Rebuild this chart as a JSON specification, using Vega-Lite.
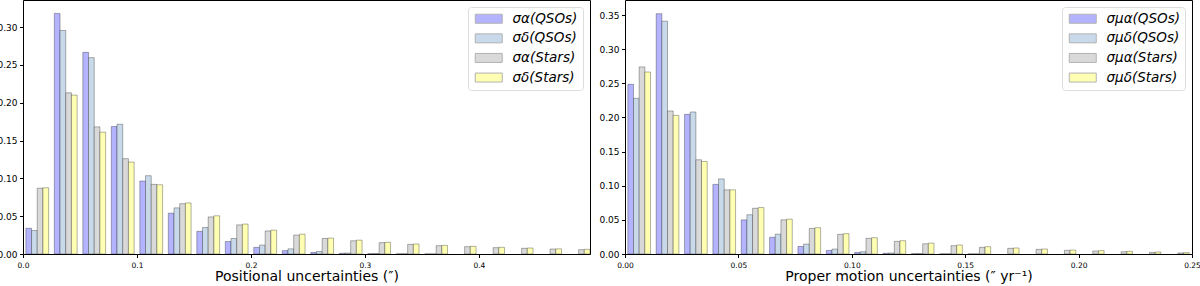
{
  "$schema": "https://vega.github.io/schema/vega-lite/v6.json",
  "background": "white",
  "padding": {"left": -5, "top": -1, "right": 0, "bottom": 0},
  "spacing": 6,
  "config": {
    "view": {"stroke": "#000", "strokeWidth": 1},
    "font": "DejaVu Sans",
    "axis": {"domain": false, "grid": false, "tickColor": "#000", "tickSize": 3.5, "labelColor": "#000", "labelFont": "DejaVu Sans", "labelFontSize": 9, "labelFlush": false, "titleFont": "DejaVu Sans", "titleFontSize": 14, "titleFontWeight": "normal", "titleColor": "#000", "labelPadding": 2.5},
    "legend": {"orient": "top-right", "offset": 7, "fillColor": "white", "strokeColor": "#ddd", "cornerRadius": 3, "padding": 5, "rowPadding": 4.6, "labelFont": "DejaVu Sans", "labelFontSize": 13.5, "labelFontStyle": "italic", "labelColor": "#000", "labelOffset": 26, "symbolType": "M-1,-1H5V1H-1Z", "symbolSize": 81, "symbolStrokeColor": "#b3b3b3", "symbolStrokeWidth": 1, "symbolOpacity": 1, "title": null}
  },
  "datasets": {
    "pos": [
      {"lo":0,"hi":0.025,"s":"σα(QSOs)","v":0.034},{"lo":0,"hi":0.025,"s":"σδ(QSOs)","v":0.031},{"lo":0,"hi":0.025,"s":"σα(Stars)","v":0.087},{"lo":0,"hi":0.025,"s":"σδ(Stars)","v":0.0875},
      {"lo":0.025,"hi":0.05,"s":"σα(QSOs)","v":0.318},{"lo":0.025,"hi":0.05,"s":"σδ(QSOs)","v":0.2955},{"lo":0.025,"hi":0.05,"s":"σα(Stars)","v":0.213},{"lo":0.025,"hi":0.05,"s":"σδ(Stars)","v":0.21},
      {"lo":0.05,"hi":0.075,"s":"σα(QSOs)","v":0.2665},{"lo":0.05,"hi":0.075,"s":"σδ(QSOs)","v":0.2595},{"lo":0.05,"hi":0.075,"s":"σα(Stars)","v":0.168},{"lo":0.05,"hi":0.075,"s":"σδ(Stars)","v":0.161},
      {"lo":0.075,"hi":0.1,"s":"σα(QSOs)","v":0.1685},{"lo":0.075,"hi":0.1,"s":"σδ(QSOs)","v":0.1715},{"lo":0.075,"hi":0.1,"s":"σα(Stars)","v":0.126},{"lo":0.075,"hi":0.1,"s":"σδ(Stars)","v":0.1215},
      {"lo":0.1,"hi":0.125,"s":"σα(QSOs)","v":0.0965},{"lo":0.1,"hi":0.125,"s":"σδ(QSOs)","v":0.1035},{"lo":0.1,"hi":0.125,"s":"σα(Stars)","v":0.092},{"lo":0.1,"hi":0.125,"s":"σδ(Stars)","v":0.0915},
      {"lo":0.125,"hi":0.15,"s":"σα(QSOs)","v":0.054},{"lo":0.125,"hi":0.15,"s":"σδ(QSOs)","v":0.061},{"lo":0.125,"hi":0.15,"s":"σα(Stars)","v":0.0665},{"lo":0.125,"hi":0.15,"s":"σδ(Stars)","v":0.0675},
      {"lo":0.15,"hi":0.175,"s":"σα(QSOs)","v":0.03},{"lo":0.15,"hi":0.175,"s":"σδ(QSOs)","v":0.035},{"lo":0.15,"hi":0.175,"s":"σα(Stars)","v":0.049},{"lo":0.15,"hi":0.175,"s":"σδ(Stars)","v":0.0505},
      {"lo":0.175,"hi":0.2,"s":"σα(QSOs)","v":0.0165},{"lo":0.175,"hi":0.2,"s":"σδ(QSOs)","v":0.0205},{"lo":0.175,"hi":0.2,"s":"σα(Stars)","v":0.0385},{"lo":0.175,"hi":0.2,"s":"σδ(Stars)","v":0.0395},
      {"lo":0.2,"hi":0.225,"s":"σα(QSOs)","v":0.0088},{"lo":0.2,"hi":0.225,"s":"σδ(QSOs)","v":0.0118},{"lo":0.2,"hi":0.225,"s":"σα(Stars)","v":0.0305},{"lo":0.2,"hi":0.225,"s":"σδ(Stars)","v":0.0315},
      {"lo":0.225,"hi":0.25,"s":"σα(QSOs)","v":0.0045},{"lo":0.225,"hi":0.25,"s":"σδ(QSOs)","v":0.0068},{"lo":0.225,"hi":0.25,"s":"σα(Stars)","v":0.025},{"lo":0.225,"hi":0.25,"s":"σδ(Stars)","v":0.0262},
      {"lo":0.25,"hi":0.275,"s":"σα(QSOs)","v":0.002},{"lo":0.25,"hi":0.275,"s":"σδ(QSOs)","v":0.0033},{"lo":0.25,"hi":0.275,"s":"σα(Stars)","v":0.0205},{"lo":0.25,"hi":0.275,"s":"σδ(Stars)","v":0.021},
      {"lo":0.275,"hi":0.3,"s":"σα(QSOs)","v":0.0009},{"lo":0.275,"hi":0.3,"s":"σδ(QSOs)","v":0.0013},{"lo":0.275,"hi":0.3,"s":"σα(Stars)","v":0.0175},{"lo":0.275,"hi":0.3,"s":"σδ(Stars)","v":0.0183},
      {"lo":0.3,"hi":0.325,"s":"σα(QSOs)","v":0.0004},{"lo":0.3,"hi":0.325,"s":"σδ(QSOs)","v":0.0006},{"lo":0.3,"hi":0.325,"s":"σα(Stars)","v":0.015},{"lo":0.3,"hi":0.325,"s":"σδ(Stars)","v":0.0154},
      {"lo":0.325,"hi":0.35,"s":"σα(QSOs)","v":0.0002},{"lo":0.325,"hi":0.35,"s":"σδ(QSOs)","v":0.0003},{"lo":0.325,"hi":0.35,"s":"σα(Stars)","v":0.0128},{"lo":0.325,"hi":0.35,"s":"σδ(Stars)","v":0.0132},
      {"lo":0.35,"hi":0.375,"s":"σα(QSOs)","v":0.0001},{"lo":0.35,"hi":0.375,"s":"σδ(QSOs)","v":0.0001},{"lo":0.35,"hi":0.375,"s":"σα(Stars)","v":0.011},{"lo":0.35,"hi":0.375,"s":"σδ(Stars)","v":0.0114},
      {"lo":0.375,"hi":0.4,"s":"σα(Stars)","v":0.0097},{"lo":0.375,"hi":0.4,"s":"σδ(Stars)","v":0.0101},
      {"lo":0.4,"hi":0.425,"s":"σα(Stars)","v":0.0084},{"lo":0.4,"hi":0.425,"s":"σδ(Stars)","v":0.0088},
      {"lo":0.425,"hi":0.45,"s":"σα(Stars)","v":0.0075},{"lo":0.425,"hi":0.45,"s":"σδ(Stars)","v":0.0079},
      {"lo":0.45,"hi":0.475,"s":"σα(Stars)","v":0.0066},{"lo":0.45,"hi":0.475,"s":"σδ(Stars)","v":0.0068},
      {"lo":0.475,"hi":0.5,"s":"σα(Stars)","v":0.0057},{"lo":0.475,"hi":0.5,"s":"σδ(Stars)","v":0.0062}
    ],
    "pm": [
      {"lo":0,"hi":0.0125,"s":"σμα(QSOs)","v":0.2485},{"lo":0,"hi":0.0125,"s":"σμδ(QSOs)","v":0.228},{"lo":0,"hi":0.0125,"s":"σμα(Stars)","v":0.274},{"lo":0,"hi":0.0125,"s":"σμδ(Stars)","v":0.2665},
      {"lo":0.0125,"hi":0.025,"s":"σμα(QSOs)","v":0.352},{"lo":0.0125,"hi":0.025,"s":"σμδ(QSOs)","v":0.341},{"lo":0.0125,"hi":0.025,"s":"σμα(Stars)","v":0.2095},{"lo":0.0125,"hi":0.025,"s":"σμδ(Stars)","v":0.203},
      {"lo":0.025,"hi":0.0375,"s":"σμα(QSOs)","v":0.2045},{"lo":0.025,"hi":0.0375,"s":"σμδ(QSOs)","v":0.208},{"lo":0.025,"hi":0.0375,"s":"σμα(Stars)","v":0.138},{"lo":0.025,"hi":0.0375,"s":"σμδ(Stars)","v":0.1355},
      {"lo":0.0375,"hi":0.05,"s":"σμα(QSOs)","v":0.102},{"lo":0.0375,"hi":0.05,"s":"σμδ(QSOs)","v":0.11},{"lo":0.0375,"hi":0.05,"s":"σμα(Stars)","v":0.094},{"lo":0.0375,"hi":0.05,"s":"σμδ(Stars)","v":0.094},
      {"lo":0.05,"hi":0.0625,"s":"σμα(QSOs)","v":0.05},{"lo":0.05,"hi":0.0625,"s":"σμδ(QSOs)","v":0.0575},{"lo":0.05,"hi":0.0625,"s":"σμα(Stars)","v":0.067},{"lo":0.05,"hi":0.0625,"s":"σμδ(Stars)","v":0.068},
      {"lo":0.0625,"hi":0.075,"s":"σμα(QSOs)","v":0.0245},{"lo":0.0625,"hi":0.075,"s":"σμδ(QSOs)","v":0.029},{"lo":0.0625,"hi":0.075,"s":"σμα(Stars)","v":0.05},{"lo":0.0625,"hi":0.075,"s":"σμδ(Stars)","v":0.051},
      {"lo":0.075,"hi":0.0875,"s":"σμα(QSOs)","v":0.011},{"lo":0.075,"hi":0.0875,"s":"σμδ(QSOs)","v":0.0145},{"lo":0.075,"hi":0.0875,"s":"σμα(Stars)","v":0.0375},{"lo":0.075,"hi":0.0875,"s":"σμδ(Stars)","v":0.0385},
      {"lo":0.0875,"hi":0.1,"s":"σμα(QSOs)","v":0.0052},{"lo":0.0875,"hi":0.1,"s":"σμδ(QSOs)","v":0.0072},{"lo":0.0875,"hi":0.1,"s":"σμα(Stars)","v":0.0288},{"lo":0.0875,"hi":0.1,"s":"σμδ(Stars)","v":0.0298},
      {"lo":0.1,"hi":0.1125,"s":"σμα(QSOs)","v":0.0023},{"lo":0.1,"hi":0.1125,"s":"σμδ(QSOs)","v":0.0033},{"lo":0.1,"hi":0.1125,"s":"σμα(Stars)","v":0.0229},{"lo":0.1,"hi":0.1125,"s":"σμδ(Stars)","v":0.0239},
      {"lo":0.1125,"hi":0.125,"s":"σμα(QSOs)","v":0.001},{"lo":0.1125,"hi":0.125,"s":"σμδ(QSOs)","v":0.0015},{"lo":0.1125,"hi":0.125,"s":"σμα(Stars)","v":0.0185},{"lo":0.1125,"hi":0.125,"s":"σμδ(Stars)","v":0.0195},
      {"lo":0.125,"hi":0.1375,"s":"σμα(QSOs)","v":0.0004},{"lo":0.125,"hi":0.1375,"s":"σμδ(QSOs)","v":0.0006},{"lo":0.125,"hi":0.1375,"s":"σμα(Stars)","v":0.015},{"lo":0.125,"hi":0.1375,"s":"σμδ(Stars)","v":0.016},
      {"lo":0.1375,"hi":0.15,"s":"σμα(QSOs)","v":0.0002},{"lo":0.1375,"hi":0.15,"s":"σμδ(QSOs)","v":0.0002},{"lo":0.1375,"hi":0.15,"s":"σμα(Stars)","v":0.0122},{"lo":0.1375,"hi":0.15,"s":"σμδ(Stars)","v":0.0132},
      {"lo":0.15,"hi":0.1625,"s":"σμα(QSOs)","v":0.0001},{"lo":0.15,"hi":0.1625,"s":"σμδ(QSOs)","v":0.0001},{"lo":0.15,"hi":0.1625,"s":"σμα(Stars)","v":0.0097},{"lo":0.15,"hi":0.1625,"s":"σμδ(Stars)","v":0.0107},
      {"lo":0.1625,"hi":0.175,"s":"σμα(Stars)","v":0.0083},{"lo":0.1625,"hi":0.175,"s":"σμδ(Stars)","v":0.0088},
      {"lo":0.175,"hi":0.1875,"s":"σμα(Stars)","v":0.0068},{"lo":0.175,"hi":0.1875,"s":"σμδ(Stars)","v":0.0073},
      {"lo":0.1875,"hi":0.2,"s":"σμα(Stars)","v":0.0054},{"lo":0.1875,"hi":0.2,"s":"σμδ(Stars)","v":0.0058},
      {"lo":0.2,"hi":0.2125,"s":"σμα(Stars)","v":0.0044},{"lo":0.2,"hi":0.2125,"s":"σμδ(Stars)","v":0.0049},
      {"lo":0.2125,"hi":0.225,"s":"σμα(Stars)","v":0.0034},{"lo":0.2125,"hi":0.225,"s":"σμδ(Stars)","v":0.0039},
      {"lo":0.225,"hi":0.2375,"s":"σμα(Stars)","v":0.0024},{"lo":0.225,"hi":0.2375,"s":"σμδ(Stars)","v":0.0029},
      {"lo":0.2375,"hi":0.25,"s":"σμα(Stars)","v":0.0015},{"lo":0.2375,"hi":0.25,"s":"σμδ(Stars)","v":0.002}
    ]
  },
  "resolve": {"scale": {"color": "independent", "x": "independent", "y": "independent"}, "legend": {"color": "independent"}},
  "hconcat": [
    {
      "width": 567, "height": 254,
      "data": {"name": "pos"},
      "transform": [
        {"calculate": "indexof(['σα(QSOs)', 'σδ(QSOs)', 'σα(Stars)', 'σδ(Stars)'], datum.s)", "as": "i"},
        {"calculate": "datum.lo + (datum.hi - datum.lo) * (0.1 + 0.2 * datum.i)", "as": "x0"},
        {"calculate": "datum.x0 + 0.2 * (datum.hi - datum.lo)", "as": "x1"}
      ],
      "mark": {"type": "bar", "stroke": "#000", "strokeOpacity": 0.3, "strokeWidth": 1},
      "encoding": {
        "x": {"field": "x0", "type": "quantitative", "scale": {"domain": [0, 0.4975], "nice": false}, "axis": {"values": [0, 0.1, 0.2, 0.3, 0.4], "format": ".1f", "title": "Positional uncertainties (″)", "titlePadding": 1, "labelPadding": 3.5, "labelFontSize": 7.5}},
        "x2": {"field": "x1"},
        "y": {"field": "v", "type": "quantitative", "stack": null, "scale": {"domain": [0, 0.3357], "nice": false}, "axis": {"values": [0, 0.05, 0.1, 0.15, 0.2, 0.25, 0.3], "format": ".2f", "title": null, "minExtent": 27, "maxExtent": 27}},
        "y2": {"datum": 0},
        "color": {"field": "s", "type": "nominal", "scale": {"domain": ["σα(QSOs)", "σδ(QSOs)", "σα(Stars)", "σδ(Stars)"], "range": ["#b3b3ff", "#c8dae9", "#d9d9d9", "#ffffb3"]}, "legend": {"title": null}}
      }
    },
    {
      "width": 567, "height": 254,
      "data": {"name": "pm"},
      "transform": [
        {"calculate": "indexof(['σμα(QSOs)', 'σμδ(QSOs)', 'σμα(Stars)', 'σμδ(Stars)'], datum.s)", "as": "i"},
        {"calculate": "datum.lo + (datum.hi - datum.lo) * (0.1 + 0.2 * datum.i)", "as": "x0"},
        {"calculate": "datum.x0 + 0.2 * (datum.hi - datum.lo)", "as": "x1"}
      ],
      "mark": {"type": "bar", "stroke": "#000", "strokeOpacity": 0.3, "strokeWidth": 1},
      "encoding": {
        "x": {"field": "x0", "type": "quantitative", "scale": {"domain": [0, 0.25], "nice": false}, "axis": {"values": [0, 0.05, 0.1, 0.15, 0.2, 0.25], "format": ".2f", "title": "Proper motion uncertainties (″ yr⁻¹)", "titlePadding": 1, "labelPadding": 3.5, "labelFontSize": 7.5}},
        "x2": {"field": "x1"},
        "y": {"field": "v", "type": "quantitative", "stack": null, "scale": {"domain": [0, 0.372], "nice": false}, "axis": {"values": [0, 0.05, 0.1, 0.15, 0.2, 0.25, 0.3, 0.35], "format": ".2f", "title": null, "minExtent": 27, "maxExtent": 27}},
        "y2": {"datum": 0},
        "color": {"field": "s", "type": "nominal", "scale": {"domain": ["σμα(QSOs)", "σμδ(QSOs)", "σμα(Stars)", "σμδ(Stars)"], "range": ["#b3b3ff", "#c8dae9", "#d9d9d9", "#ffffb3"]}, "legend": {"title": null}}
      }
    }
  ]
}
